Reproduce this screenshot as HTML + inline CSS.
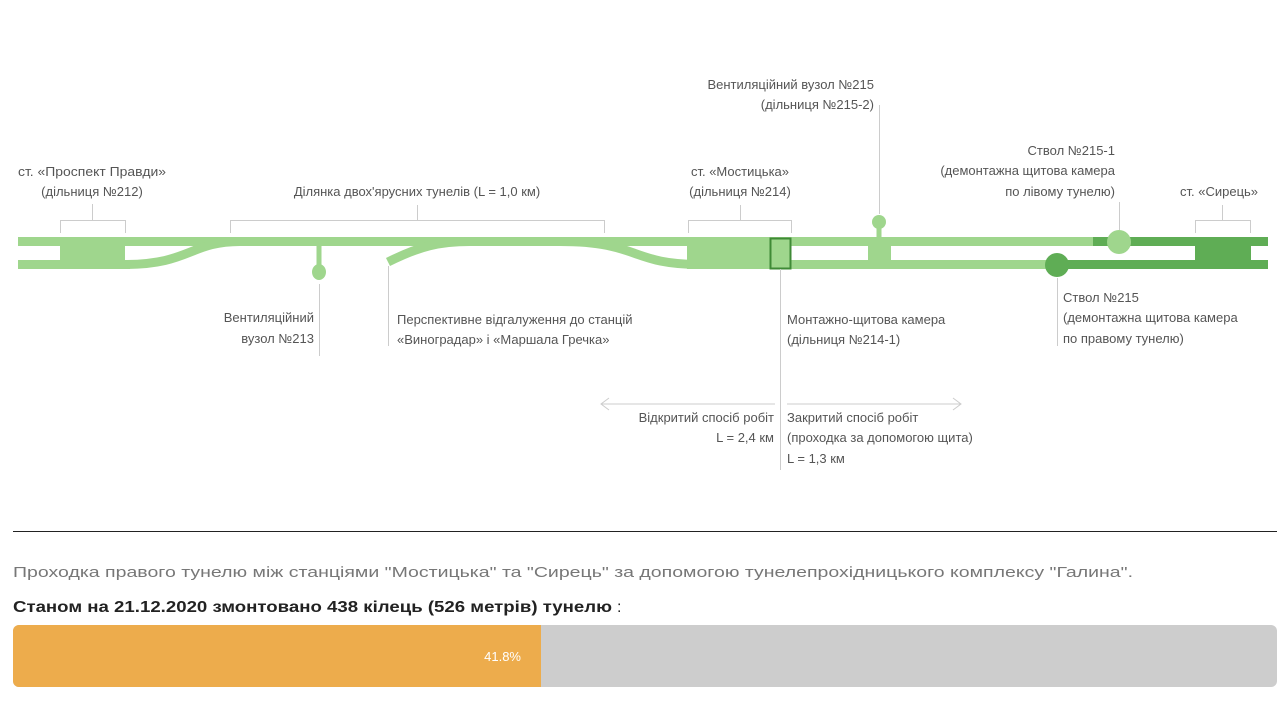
<!DOCTYPE html>
<html><head><meta charset="utf-8"><style>
body{margin:0;background:#fff;width:1285px;height:711px;overflow:hidden;font-family:"Liberation Sans",sans-serif}
svg text{font-family:"Liberation Sans",sans-serif;font-size:13px;fill:#555}
</style></head><body>
<svg width="1285" height="711" viewBox="0 0 1285 711" style="position:absolute;left:0;top:0">
<g fill="none" stroke="#9fd68d" stroke-width="9">
<line x1="18" y1="241.5" x2="1100" y2="241.5"/>
<line x1="18" y1="264.5" x2="130" y2="264.5"/>
<path d="M124 264.5 C190 264.5 190 241.5 240 241.5"/>
<path d="M560 241.5 C640 241.5 630 264.5 700 264.5"/>
<line x1="690" y1="264.5" x2="1060" y2="264.5"/>
<path d="M388 262 C420 246 440 241.5 470 241.5"/>
<line x1="319" y1="241" x2="319" y2="268" stroke-width="5"/>
<line x1="879" y1="222" x2="879" y2="240" stroke-width="5"/>
</g>
<g fill="none" stroke="#5fad55" stroke-width="9">
<line x1="1093" y1="241.5" x2="1268" y2="241.5"/>
<line x1="1057" y1="264.5" x2="1268" y2="264.5"/>
</g>
<rect x="60" y="237" width="65" height="32" fill="#9fd68d"/>
<rect x="687" y="237" width="104" height="32" fill="#9fd68d"/>
<rect x="770.5" y="238.5" width="20" height="30" fill="#9fd68d" stroke="#3f8a36" stroke-width="2"/>
<rect x="868" y="237" width="23" height="32" fill="#9fd68d"/>
<rect x="1195" y="237" width="56" height="32" fill="#5fad55"/>
<ellipse cx="319" cy="272" rx="7" ry="8" fill="#9fd68d"/>
<circle cx="879" cy="222" r="7" fill="#9fd68d"/>
<circle cx="1119" cy="242" r="12" fill="#9fd68d"/>
<circle cx="1057" cy="265" r="12" fill="#5fad55"/>
<g fill="none" stroke="#ccc" stroke-width="1">
<path d="M60.5 233V220.5H125.5V233M92.5 220V204"/>
<path d="M230.5 233V220.5H604.5V233M417.5 220V205"/>
<path d="M688.5 233V220.5H791.5V233M740.5 220V205"/>
<path d="M1195.5 233V220.5H1250.5V233M1222.5 220V205"/>
<path d="M879.5 105V214M1119.5 202V230M319.5 284V356M388.5 266V346M780.5 269V470M1057.5 278V346"/>
<path d="M775 404H601M609 398L601 404L609 410M787 404H961M953 398L961 404L953 410"/>
</g>
<text x="18" y="176" textLength="148" lengthAdjust="spacingAndGlyphs">ст. «Проспект Правди»</text>
<text x="92" y="196" text-anchor="middle">(дільниця №212)</text>
<text x="417" y="196" text-anchor="middle">Ділянка двох'ярусних тунелів (L = 1,0 км)</text>
<g text-anchor="end">
<text x="874" y="89">Вентиляційний вузол №215</text>
<text x="874" y="109">(дільниця №215-2)</text>
<text x="1115" y="155">Ствол №215-1</text>
<text x="1115" y="175">(демонтажна щитова камера</text>
<text x="1115" y="196">по лівому тунелю)</text>
<text x="314" y="322">Вентиляційний</text>
<text x="314" y="343">вузол №213</text>
<text x="774" y="422">Відкритий спосіб робіт</text>
<text x="774" y="442">L = 2,4 км</text>
</g>
<text x="740" y="176" text-anchor="middle">ст. «Мостицька»</text>
<text x="740" y="196" text-anchor="middle">(дільниця №214)</text>
<text x="1180" y="196">ст. «Сирець»</text>
<text x="397" y="324">Перспективне відгалуження до станцій</text>
<text x="397" y="344">«Виноградар» і «Маршала Гречка»</text>
<text x="787" y="324">Монтажно-щитова камера</text>
<text x="787" y="344">(дільниця №214-1)</text>
<text x="1063" y="302">Ствол №215</text>
<text x="1063" y="322">(демонтажна щитова камера</text>
<text x="1063" y="343">по правому тунелю)</text>
<text x="787" y="422">Закритий спосіб робіт</text>
<text x="787" y="442">(проходка за допомогою щита)</text>
<text x="787" y="463">L = 1,3 км</text>
<line x1="13" y1="531.5" x2="1277" y2="531.5" stroke="#222" stroke-width="1"/>
<text x="13" y="577" textLength="1120" lengthAdjust="spacingAndGlyphs" style="font-size:15px;fill:#777">Проходка правого тунелю між станціями "Мостицька" та "Сирець" за допомогою тунелепрохідницького комплексу "Галина".</text>
<text x="13" y="612" textLength="599" lengthAdjust="spacingAndGlyphs" style="font-size:16px;fill:#222;font-weight:bold">Станом на 21.12.2020 змонтовано 438 кілець (526 метрів) тунелю</text>
<text x="617" y="612" style="font-size:16px;fill:#222">:</text>
<rect x="13" y="625" width="1264" height="62" rx="6" fill="#cdcdcd"/>
<path d="M19 625H541V687H19A6 6 0 0 1 13 681V631A6 6 0 0 1 19 625Z" fill="#edac4c"/>
<text x="521" y="661" text-anchor="end" style="font-size:13px;fill:#fff">41.8%</text>
</svg>
</body></html>
